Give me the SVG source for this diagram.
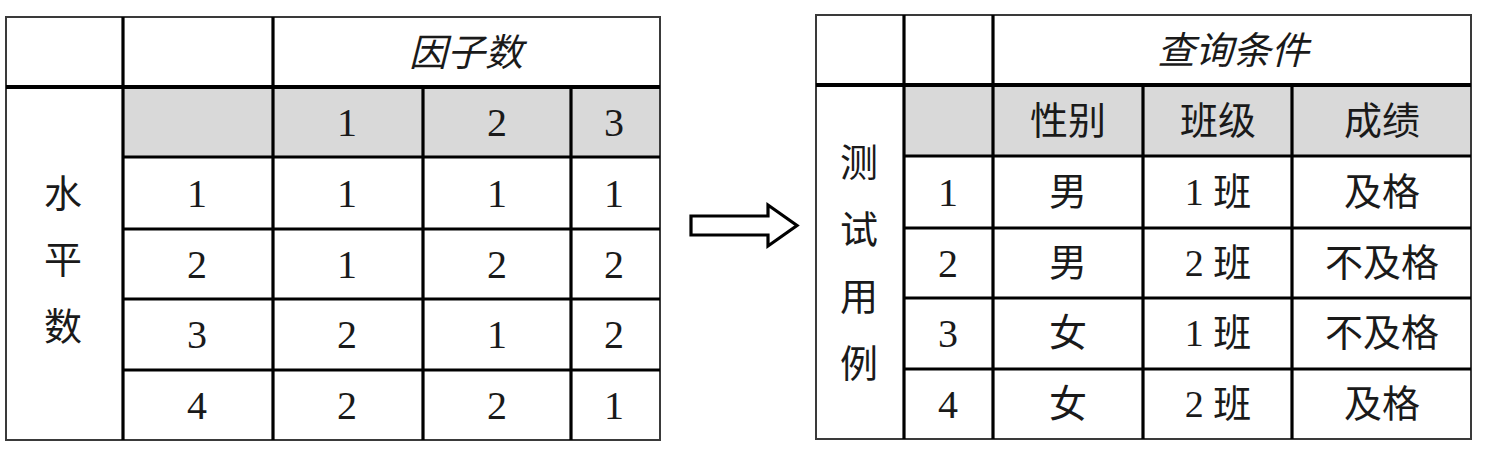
<svg xmlns="http://www.w3.org/2000/svg" width="1492" height="454" viewBox="0 0 1492 454">
<style>
.bg{fill:#ffffff}
.hd{fill:#d9d9d9}
.outer{fill:none;stroke:#3a3a3a;stroke-width:2}
.ln{stroke:#000;stroke-width:3.2;fill:none}
.t{font-family:"Liberation Serif","Noto Sans CJK SC",serif;font-size:38px;fill:#1a1a1a;text-anchor:middle}
.d{font-size:40px}
.it{font-style:italic}
.arrow{fill:#fff;stroke:#000;stroke-width:3.2;stroke-linejoin:miter}
</style>
<rect x="0" y="0" width="1492" height="454" class="bg"/>

<g id="table-left">
  <rect x="123" y="87" width="537" height="70" class="hd"/>
  <rect x="6" y="17" width="654" height="423" class="outer"/>
  <g id="left-lines">
    <line x1="123" y1="17" x2="123" y2="440" class="ln"/>
    <line x1="273" y1="17" x2="273" y2="440" class="ln"/>
    <line x1="423" y1="87" x2="423" y2="440" class="ln"/>
    <line x1="571" y1="87" x2="571" y2="440" class="ln"/>
    <line x1="6" y1="87" x2="660" y2="87" class="ln" style="stroke-width:4"/>
    <line x1="123" y1="157" x2="660" y2="157" class="ln"/>
    <line x1="123" y1="229" x2="660" y2="229" class="ln"/>
    <line x1="123" y1="299" x2="660" y2="299" class="ln"/>
    <line x1="123" y1="370" x2="660" y2="370" class="ln"/>
  </g>
  <g id="left-title"><text x="466" y="66" class="t it">因子数</text></g>
  <g id="left-side">
    <text x="63" y="207" class="t">水</text>
    <text x="63" y="273" class="t">平</text>
    <text x="63" y="340" class="t">数</text>
  </g>
  <g id="left-header">
    <text x="347" y="136" class="t d">1</text>
    <text x="497" y="136" class="t d">2</text>
    <text x="614" y="136" class="t d">3</text>
  </g>
  <g id="left-row1">
    <text x="197" y="207" class="t d">1</text>
    <text x="347" y="207" class="t d">1</text>
    <text x="497" y="207" class="t d">1</text>
    <text x="614" y="207" class="t d">1</text>
  </g>
  <g id="left-row2">
    <text x="197" y="278" class="t d">2</text>
    <text x="347" y="278" class="t d">1</text>
    <text x="497" y="278" class="t d">2</text>
    <text x="614" y="278" class="t d">2</text>
  </g>
  <g id="left-row3">
    <text x="197" y="348" class="t d">3</text>
    <text x="347" y="348" class="t d">2</text>
    <text x="497" y="348" class="t d">1</text>
    <text x="614" y="348" class="t d">2</text>
  </g>
  <g id="left-row4">
    <text x="197" y="419" class="t d">4</text>
    <text x="347" y="419" class="t d">2</text>
    <text x="497" y="419" class="t d">2</text>
    <text x="614" y="419" class="t d">1</text>
  </g>
</g>

<g id="connectors">
  <polygon class="arrow" points="691,216 768,216 768,205 797,225.5 768,246 768,235 691,235"/>
</g>

<g id="table-right">
  <rect x="904" y="85" width="567" height="71" class="hd"/>
  <rect x="816" y="15" width="655" height="424" class="outer"/>
  <g id="right-lines">
    <line x1="904" y1="15" x2="904" y2="439" class="ln"/>
    <line x1="993" y1="15" x2="993" y2="439" class="ln"/>
    <line x1="1143" y1="85" x2="1143" y2="439" class="ln"/>
    <line x1="1292" y1="85" x2="1292" y2="439" class="ln"/>
    <line x1="816" y1="85" x2="1471" y2="85" class="ln" style="stroke-width:4"/>
    <line x1="904" y1="156" x2="1471" y2="156" class="ln"/>
    <line x1="904" y1="228" x2="1471" y2="228" class="ln"/>
    <line x1="904" y1="298" x2="1471" y2="298" class="ln"/>
    <line x1="904" y1="369" x2="1471" y2="369" class="ln"/>
  </g>
  <g id="right-title"><text x="1233" y="64" class="t it">查询条件</text></g>
  <g id="right-side">
    <text x="859" y="176" class="t">测</text>
    <text x="859" y="243" class="t">试</text>
    <text x="859" y="310" class="t">用</text>
    <text x="859" y="377" class="t">例</text>
  </g>
  <g id="right-header">
    <text x="1068" y="134" class="t">性别</text>
    <text x="1218" y="134" class="t">班级</text>
    <text x="1382" y="134" class="t">成绩</text>
  </g>
  <g id="right-row1">
    <text x="948" y="206" class="t d">1</text>
    <text x="1068" y="205" class="t">男</text>
    <text x="1218" y="205" class="t">1 班</text>
    <text x="1382" y="205" class="t">及格</text>
  </g>
  <g id="right-row2">
    <text x="948" y="277" class="t d">2</text>
    <text x="1068" y="276" class="t">男</text>
    <text x="1218" y="276" class="t">2 班</text>
    <text x="1382" y="276" class="t">不及格</text>
  </g>
  <g id="right-row3">
    <text x="948" y="347" class="t d">3</text>
    <text x="1068" y="346" class="t">女</text>
    <text x="1218" y="346" class="t">1 班</text>
    <text x="1382" y="346" class="t">不及格</text>
  </g>
  <g id="right-row4">
    <text x="948" y="418" class="t d">4</text>
    <text x="1068" y="417" class="t">女</text>
    <text x="1218" y="417" class="t">2 班</text>
    <text x="1382" y="417" class="t">及格</text>
  </g>
</g>
</svg>
